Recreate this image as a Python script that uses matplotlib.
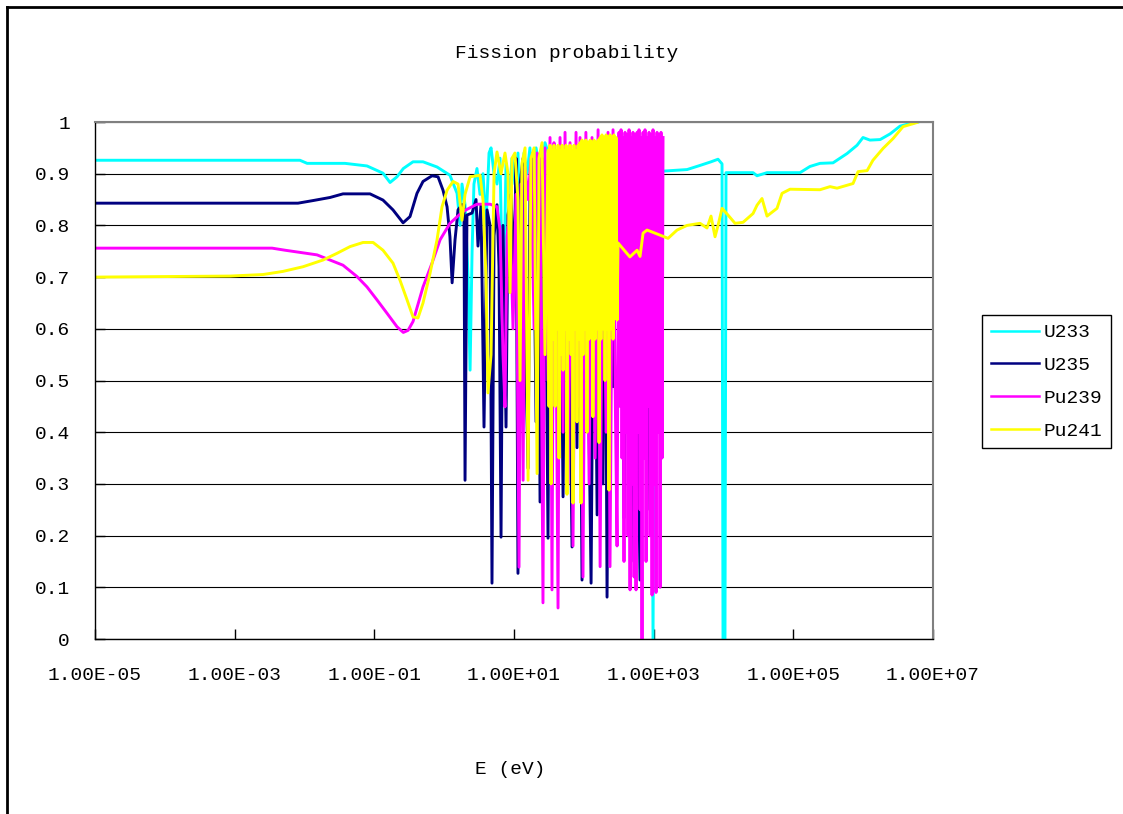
import matplotlib
matplotlib.use("Agg")
import matplotlib.pyplot as plt
from matplotlib.lines import Line2D
from matplotlib.ticker import NullLocator

plt.rcParams['font.family'] = ['Liberation Mono', 'DejaVu Sans Mono']

# energies in eV, fission probability
u233_e = [1e-5, 8.6e-3, 1.09e-2, 3.8e-2, 7.85e-2, 0.133, 0.168, 0.211, 0.26, 0.358, 0.498, 0.79, 1.21, 1.53,
          1.69, 1.80, 1.99, 2.20, 2.35, 2.51, 2.67, 2.95, 3.26, 3.60, 3.97, 4.39, 4.69, 5.18, 5.71, 6.31,
          6.96, 7.69, 8.49, 9.37, 10.3, 11.4, 12.6, 13.9, 15.4, 16.9, 18.7, 20.7, 23.6, 27.8, 32.8, 45.6,
          74.8, 127, 201, 299, 638, 917, 979, 1047, 1362, 3006, 4613, 6624, 8350, 9527, 9840, 10500,
          10860, 26500, 30200, 42000, 124700, 173000, 241000, 370000, 588000, 817000, 995000, 1.25e6,
          1.75e6, 2.43e6, 3.37e6, 4.69e6, 6.1e6]
u233_p = [0.926, 0.926, 0.920, 0.920, 0.915, 0.901, 0.883, 0.894, 0.910, 0.923, 0.923, 0.913, 0.897, 0.862,
          0.80, 0.88, 0.84, 0.70, 0.52, 0.75, 0.88, 0.91, 0.86, 0.90, 0.80, 0.94, 0.95, 0.90, 0.88, 0.93,
          0.60, 0.92, 0.85, 0.93, 0.88, 0.94, 0.70, 0.94, 0.90, 0.95, 0.85, 0.95, 0.90, 0.96, 0.93, 0.92,
          0.90, 0.93, 0.91, 0.90, 0.91, 0.90, 0.0, 0.90, 0.905, 0.908, 0.916, 0.923, 0.928, 0.919, 0.0, 0.0,
          0.902, 0.902, 0.896, 0.902, 0.902, 0.914, 0.920, 0.921, 0.939, 0.955, 0.970, 0.965,
          0.966, 0.977, 0.992, 0.997, 1.0]

u235_e = [1e-5, 8.07e-3, 1.32e-2, 2.32e-2, 3.56e-2, 8.67e-2, 0.133, 0.185, 0.258, 0.324, 0.408, 0.498,
          0.670, 0.817, 0.963, 1.10, 1.21, 1.30, 1.43, 1.58, 1.80, 1.92, 1.99, 2.12, 2.51, 2.86, 3.05,
          3.37, 3.72, 4.11, 4.54, 4.84, 5.18, 5.71, 6.10, 6.52, 6.96, 7.69, 8.20, 9.06, 10.0, 10.7, 11.4,
          12.2, 13.5, 14.4, 15.9, 16.9, 18.7, 20.7, 22.1, 23.6, 25.2, 27.8, 30.7, 32.8, 36.2, 38.7, 42.7,
          45.6, 50.4, 55.6, 61.4, 67.8, 72.3, 79.8, 85.3, 94.2, 104, 115, 127, 140, 155, 171, 188, 201,
          215, 237, 262, 289, 319, 341, 376, 415, 474, 524, 638, 705, 804, 888, 979, 1081, 1234]
u235_p = [0.843, 0.843, 0.848, 0.854, 0.861, 0.861, 0.849, 0.830, 0.805, 0.817, 0.862, 0.885,
          0.896, 0.894, 0.868, 0.836, 0.778, 0.689, 0.772, 0.83, 0.84, 0.84, 0.307, 0.82, 0.824, 0.85, 0.76,
          0.84, 0.41, 0.83, 0.80, 0.108, 0.78, 0.84, 0.72, 0.197, 0.80, 0.41, 0.82, 0.86, 0.70, 0.93, 0.127,
          0.88, 0.93, 0.60, 0.33, 0.85, 0.94, 0.42, 0.90, 0.265, 0.93, 0.88, 0.195, 0.92, 0.60, 0.94, 0.50,
          0.90, 0.275, 0.93, 0.62, 0.178, 0.90, 0.37, 0.92, 0.114, 0.93, 0.55, 0.108, 0.90, 0.24, 0.92, 0.30, 0.93,
          0.081, 0.90, 0.488, 0.92, 0.89, 0.92, 0.234, 0.93, 0.15, 0.92, 0.114, 0.93, 0.25, 0.92, 0.37, 0.91, 0.90]

pu239_e = [1e-5, 3.43e-3, 5.26e-3, 1.51e-2, 2.32e-2, 3.56e-2, 5.65e-2, 7.85e-2, 0.109, 0.152, 0.211, 0.26,
           0.304, 0.358, 0.498, 0.670, 0.873, 1.21, 1.86, 2.95, 4.54, 5.71, 6.31, 6.96, 7.43, 7.95, 8.77,
           9.68, 10.7, 11.8, 12.6, 13.5, 14.4, 15.9, 17.5, 19.4, 21.4, 23.6, 26.0, 27.8, 30.7, 32.8, 35.0,
           37.4, 40.0, 42.7, 45.6, 50.4, 53.8, 59.4, 63.4, 70.0, 77.3, 82.6, 88.2, 97.3, 107, 119, 131, 145,
           160, 171, 188, 208, 222, 237, 262, 280, 299, 319, 330, 341, 352, 364, 376, 389, 402, 415, 429,
           444, 459, 474, 490, 506, 524, 541, 559, 578, 597, 617, 638, 659, 681, 705, 728, 752, 778, 804,
           830, 859, 888, 917, 948, 979, 1012, 1047, 1081, 1117, 1154, 1194, 1234, 1274, 1318, 1362]
pu239_p = [0.756, 0.756, 0.752, 0.743, 0.733, 0.723, 0.701, 0.681, 0.656, 0.630, 0.604, 0.593,
           0.597, 0.614, 0.681, 0.727, 0.772, 0.804, 0.827, 0.841, 0.841, 0.836, 0.791, 0.55, 0.449, 0.78, 0.83,
           0.60, 0.86, 0.139, 0.88, 0.307, 0.913, 0.85, 0.93, 0.60, 0.94, 0.93, 0.07, 0.95, 0.50, 0.97, 0.095,
           0.96, 0.60, 0.06, 0.97, 0.40, 0.98, 0.30, 0.96, 0.18, 0.98, 0.45, 0.97, 0.12, 0.98, 0.30, 0.97, 0.35,
           0.985, 0.14, 0.97, 0.40, 0.98, 0.14, 0.985, 0.50, 0.18, 0.98, 0.45, 0.985, 0.35, 0.97, 0.15, 0.98, 0.40,
           0.975, 0.20, 0.985, 0.095, 0.97, 0.30, 0.98, 0.12, 0.975, 0.095, 0.98, 0.40, 0.985, 0.25, 0.97, 0.0,
           0.98, 0.35, 0.985, 0.15, 0.97, 0.45, 0.98, 0.20, 0.975, 0.085, 0.985, 0.30, 0.97, 0.09, 0.98, 0.40,
           0.975, 0.10, 0.98, 0.35, 0.97]

pu241_e = [1e-5, 8.6e-4, 2.55e-3, 4.9e-3, 9.5e-3, 1.84e-2, 2.92e-2, 4.49e-2, 6.9e-2, 9.6e-2, 0.133, 0.185,
           0.233, 0.294, 0.358, 0.422, 0.498, 0.627, 0.79, 0.932, 1.10, 1.34, 1.58, 1.80, 1.99, 2.35, 3.26,
           3.60, 3.97, 4.24, 4.69, 5.18, 5.71, 6.52, 7.43, 8.20, 8.77, 9.37, 10.3, 11.4, 12.2, 13.0, 14.4,
           15.9, 17.5, 19.4, 21.4, 22.8, 25.2, 27.8,
           30.7, 31.7, 32.8, 33.9, 35.0, 36.2, 37.4, 38.7, 40.0, 41.3, 42.7, 44.1, 45.6, 47.1, 48.7, 50.4,
           52.0, 53.8, 55.6, 57.4, 59.4, 61.4, 63.4, 65.6, 67.8, 70.0, 72.3, 74.8, 77.3, 79.8, 82.6, 85.3,
           88.2, 91.1, 94.2, 97.3, 101, 104, 107, 111, 115, 119, 123, 127, 131, 135, 140, 145, 150, 155,
           160, 165, 171, 176, 182, 188, 195, 201, 208, 215, 222, 229, 237, 245, 253, 262, 270, 280, 289, 299,
           309, 457, 578, 638, 705, 804, 1047, 1607, 2162, 3006,
           4613, 5810, 6624, 7564, 8350, 9527, 11600, 14630, 19050, 26500, 30200, 35600, 42000, 58400,
           68900, 89700, 241000, 335000, 423000, 716000, 845000, 1.14e6, 1.38e6, 1.93e6, 2.68e6, 3.72e6,
           5.9e6]
pu241_p = [0.700, 0.702, 0.705, 0.711, 0.720, 0.733, 0.746, 0.759, 0.767, 0.767, 0.752, 0.727,
           0.694, 0.656, 0.623, 0.621, 0.65, 0.707, 0.772, 0.836, 0.868, 0.885, 0.88, 0.81, 0.86, 0.894, 0.897,
           0.849, 0.70, 0.476, 0.55, 0.90, 0.942, 0.90, 0.94, 0.90, 0.67, 0.93, 0.94, 0.85, 0.50, 0.92, 0.95,
           0.307, 0.93, 0.95, 0.32, 0.93, 0.96, 0.55,
           0.945, 0.45, 0.955, 0.30, 0.945, 0.58, 0.955, 0.45, 0.945, 0.60, 0.955, 0.35, 0.945, 0.55, 0.955, 0.52,
           0.945, 0.60, 0.955, 0.28, 0.945, 0.58, 0.955, 0.55, 0.945, 0.263, 0.955, 0.60, 0.945, 0.42, 0.955, 0.58,
           0.96, 0.263, 0.965, 0.55, 0.96, 0.60, 0.965, 0.40, 0.96, 0.58, 0.965, 0.60, 0.96, 0.43, 0.965, 0.58,
           0.96, 0.60, 0.965, 0.38,
           0.97, 0.58, 0.975, 0.60, 0.97, 0.50, 0.975, 0.60, 0.97, 0.288, 0.975, 0.60, 0.97, 0.58, 0.975, 0.62,
           0.97, 0.617,
           0.766, 0.739, 0.752, 0.74, 0.785, 0.791, 0.785, 0.775, 0.791, 0.80,
           0.804, 0.795, 0.818, 0.778, 0.80, 0.833, 0.82, 0.804, 0.806, 0.823, 0.839, 0.852, 0.818, 0.833,
           0.862, 0.870, 0.869, 0.875, 0.872, 0.881, 0.904, 0.906, 0.926, 0.949, 0.968, 0.991,
           0.999]

x_ticks = [1e-5, 1e-3, 1e-1, 1e1, 1e3, 1e5, 1e7]
x_labels = ['1.00E-05', '1.00E-03', '1.00E-01', '1.00E+01', '1.00E+03', '1.00E+05', '1.00E+07']
y_ticks = [0, 0.1, 0.2, 0.3, 0.4, 0.5, 0.6, 0.7, 0.8, 0.9, 1]
y_labels = ['0', '0.1', '0.2', '0.3', '0.4', '0.5', '0.6', '0.7', '0.8', '0.9', '1']

W, H = 1123, 814
fig = plt.figure(figsize=(W / 100, H / 100), dpi=100)
ax = fig.add_axes([95 / W, 1 - 639 / H, 838 / W, 517 / H])

lw = 2.1
ax.plot(u233_e, u233_p, color='#00FFFF', lw=lw, label='U233')
ax.plot(u235_e, u235_p, color='#000080', lw=lw, label='U235')
ax.plot(pu239_e, pu239_p, color='#FF00FF', lw=lw, label='Pu239')
ax.plot(pu241_e, pu241_p, color='#FFFF00', lw=lw, label='Pu241')

ax.set_xscale('log')
ax.set_xlim(1e-5, 1e7)
ax.set_ylim(0, 1)
ax.set_xticks(x_ticks)
ax.set_xticklabels(x_labels)
ax.xaxis.set_minor_locator(NullLocator())
ax.set_yticks(y_ticks)
ax.set_yticklabels(y_labels)
ax.tick_params(axis='both', direction='in', length=7, width=1, labelsize=14, colors='black')
ax.tick_params(axis='x', pad=20)
ax.tick_params(axis='y', pad=18)
ax.yaxis.grid(True, color='black', lw=0.8)
ax.set_axisbelow(True)
for s in ['top', 'right']:
    ax.spines[s].set_color('#808080')
    ax.spines[s].set_linewidth(1.5)
for s in ['left', 'bottom']:
    ax.spines[s].set_color('black')
    ax.spines[s].set_linewidth(1.0)

fig.text(567 / W, 1 - 53 / H, 'Fission probability', ha='center', va='center', fontsize=14)
fig.text(510 / W, 1 - 770 / H, 'E (eV)', ha='center', va='center', fontsize=14)

leg = fig.legend(loc='upper left', bbox_to_anchor=(982 / W, 1 - 315 / H), fontsize=14,
                 fancybox=False, edgecolor='black', framealpha=1, handlelength=2.5,
                 handletextpad=0.2, labelspacing=0.78, borderpad=0.45, borderaxespad=0)
leg.get_frame().set_linewidth(1.0)
for h in leg.get_lines():
    h.set_linewidth(1.8)

# outer chart frame (left and top edges visible)
fig.add_artist(Line2D([7 / W, 7 / W], [0, 1 - 7 / H], transform=fig.transFigure, color='black', lw=2))
fig.add_artist(Line2D([7 / W, 1], [1 - 7 / H, 1 - 7 / H], transform=fig.transFigure, color='black', lw=2))

fig.savefig('out.png', dpi=100)
